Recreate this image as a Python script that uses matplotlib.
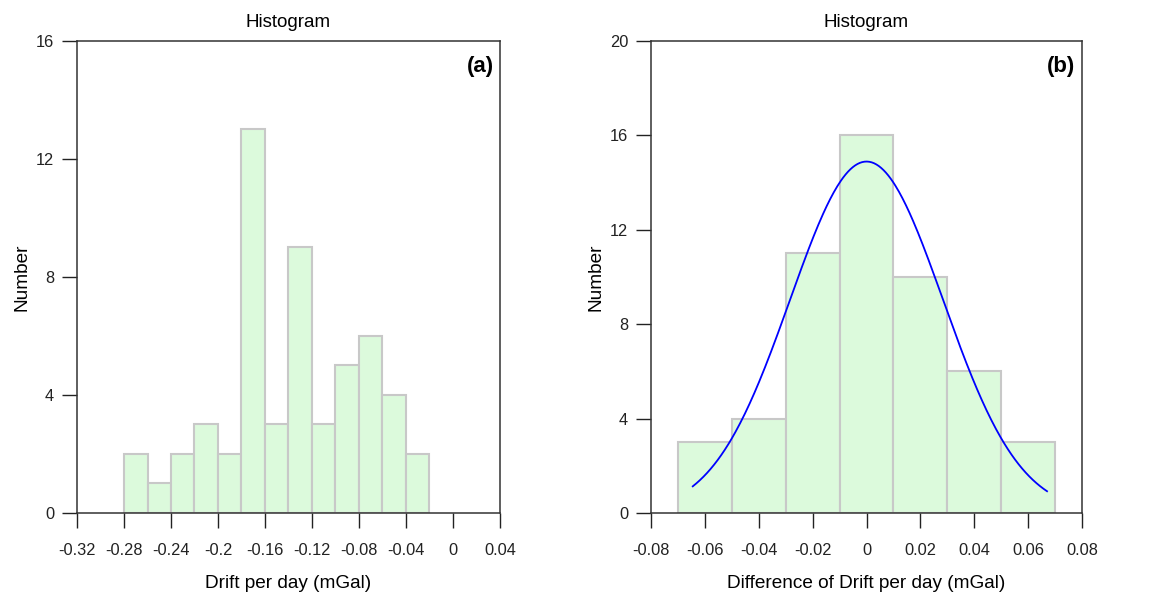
import numpy as np
import matplotlib
matplotlib.use("Agg")
import matplotlib.pyplot as plt

plt.rcParams['font.family'] = ['Liberation Sans', 'DejaVu Sans']

# Panel (a) data
a_edges = [-0.28, -0.26, -0.24, -0.22, -0.20, -0.18, -0.16, -0.14, -0.12, -0.10, -0.08, -0.06, -0.04, -0.02]
a_counts = [2, 1, 2, 3, 2, 13, 3, 9, 3, 5, 6, 4, 2]
a_xticks = [-0.32, -0.28, -0.24, -0.2, -0.16, -0.12, -0.08, -0.04, 0, 0.04]
a_xticklabels = ["-0.32", "-0.28", "-0.24", "-0.2", "-0.16", "-0.12", "-0.08", "-0.04", "0", "0.04"]
a_yticks = [0, 4, 8, 12, 16]

# Panel (b) data
b_edges = [-0.07, -0.05, -0.03, -0.01, 0.01, 0.03, 0.05, 0.07]
b_counts = [3, 4, 11, 16, 10, 6, 3]
b_xticks = [-0.08, -0.06, -0.04, -0.02, 0, 0.02, 0.04, 0.06, 0.08]
b_xticklabels = ["-0.08", "-0.06", "-0.04", "-0.02", "0", "0.02", "0.04", "0.06", "0.08"]
b_yticks = [0, 4, 8, 12, 16, 20]
fit_mean = 0.0
fit_sd = 0.0284
fit_xmin, fit_xmax = -0.0645, 0.067

bar_face = "#dcfadc"
bar_edge = "#c8c8c8"

fig = plt.figure(figsize=(11.51, 5.96), dpi=100)
ax1 = fig.add_axes([0.0669, 0.1393, 0.3675, 0.792])
ax2 = fig.add_axes([0.5656, 0.1393, 0.3745, 0.792])


def draw_hist(ax, edges, counts):
    edges = np.array(edges)
    widths = np.diff(edges)
    ax.bar(edges[:-1], counts, width=widths, align='edge', color=bar_face,
           edgecolor=bar_edge, linewidth=1.5, zorder=2)


def style(ax, xlim, ylim, xticks, xlabels, yticks, xlabel, tag):
    ax.set_xlim(*xlim)
    ax.set_ylim(*ylim)
    ax.set_xticks(xticks)
    ax.set_xticklabels(xlabels)
    ax.set_yticks(yticks)
    ax.tick_params(direction='out', length=10.5, width=1.0, labelsize=11.8, pad=6, colors='#222222')
    ax.tick_params(axis='x', pad=11)
    for s in ax.spines.values():
        s.set_linewidth(1.1)
        s.set_color('#333333')
    ax.set_xlabel(xlabel, fontsize=13.7, labelpad=12)
    ax.set_ylabel("Number", fontsize=13.7, labelpad=4)
    ax.set_title("Histogram", fontsize=13.5, pad=10)
    ax.text(0.985, 0.968, tag, transform=ax.transAxes, ha='right', va='top',
            fontsize=16, fontweight='bold')


draw_hist(ax1, a_edges, a_counts)
style(ax1, (-0.32, 0.04), (0, 16), a_xticks, a_xticklabels, a_yticks,
      "Drift per day (mGal)", "(a)")

draw_hist(ax2, b_edges, b_counts)
n_total = sum(b_counts)
binw = b_edges[1] - b_edges[0]
xs = np.linspace(fit_xmin, fit_xmax, 300)
ys = n_total * binw / (fit_sd * np.sqrt(2 * np.pi)) * np.exp(-0.5 * ((xs - fit_mean) / fit_sd) ** 2)
ax2.plot(xs, ys, color='#0000ff', linewidth=1.3, zorder=3)
style(ax2, (-0.08, 0.08), (0, 20), b_xticks, b_xticklabels, b_yticks,
      "Difference of Drift per day (mGal)", "(b)")

fig.savefig("out.png", dpi=100)
